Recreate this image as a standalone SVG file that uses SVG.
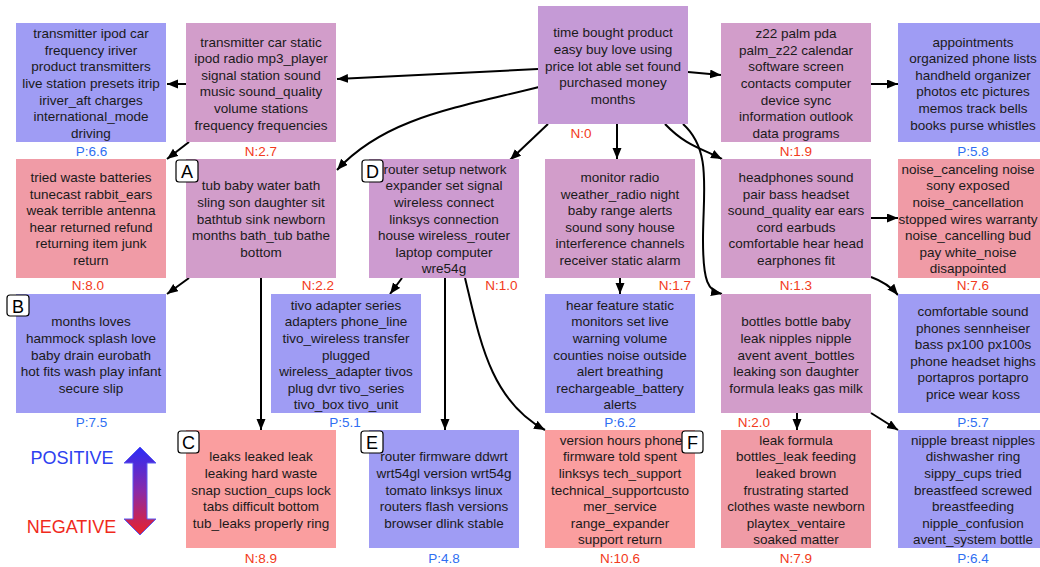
<svg xmlns="http://www.w3.org/2000/svg" width="1040" height="567" viewBox="0 0 1040 567">
<defs>
<style>
.t{font-family:"Liberation Sans",Arial,sans-serif;font-size:13.5px;fill:#1a1a1a;text-anchor:middle}
.p{font-family:"Liberation Sans",Arial,sans-serif;font-size:13.5px;fill:#2f6ff2;text-anchor:middle}
.n{font-family:"Liberation Sans",Arial,sans-serif;font-size:13.5px;fill:#f23a20;text-anchor:middle}
.bl{fill:#9f9cf4}.pu{fill:#c59ad6}.mv{fill:#d29dca}.pk{fill:#f09ba6}.sa{fill:#fa9e9f}
.bd rect{fill:#fff;stroke:#000;stroke-width:1.2}
.bd text{font-family:"Liberation Sans",Arial,sans-serif;font-size:18px;fill:#000;text-anchor:middle}
.e{fill:none;stroke:#000;stroke-width:2;marker-end:url(#ah)}
.lg{font-family:"Liberation Sans",Arial,sans-serif;font-size:18px;text-anchor:middle}
</style>
<marker id="ah" markerUnits="userSpaceOnUse" markerWidth="12" markerHeight="10" refX="11" refY="4.5" orient="auto"><path d="M0,0 L11,4.5 L0,9 Z" fill="#000"/></marker>
<linearGradient id="grad" x1="0" y1="0" x2="0" y2="1"><stop offset="0" stop-color="#2a2cf8"/><stop offset="0.5" stop-color="#8a2aa8"/><stop offset="1" stop-color="#ea2228"/></linearGradient>
</defs>
<rect width="1040" height="567" fill="#fff"/>

<g id="edges">
<path class="e" d="M538,69 L337,79"/>
<path class="e" d="M186,84 L167,84"/>
<path class="e" d="M189,142 L167,159"/>
<path class="e" d="M539,87 C455,108 385,118 337,170"/>
<path class="e" d="M548,124 L510,160"/>
<path class="e" d="M617,124 L617,159"/>
<path class="e" d="M665,124 C685,145 700,148 722,159"/>
<path class="e" d="M683,124 C712,150 703,190 703,240 C703,282 708,291 722,294"/>
<path class="e" d="M688,72 L721,75"/>
<path class="e" d="M871,84 L898,84"/>
<path class="e" d="M189,278 L167,294"/>
<path class="e" d="M261,278 L261,430"/>
<path class="e" d="M402,278 L390,294"/>
<path class="e" d="M445,278 L445,430"/>
<path class="e" d="M465,278 C480,340 490,400 545,430"/>
<path class="e" d="M620,278 L620,294"/>
<path class="e" d="M871,218 L898,218"/>
<path class="e" d="M871,277 C885,282 892,288 898,295"/>
<path class="e" d="M797,413 L797,430"/>
<path class="e" d="M871,413 L898,430"/>
</g>

<g id="n1"><rect class="bl" x="16" y="23" width="150" height="119"/>
<text class="t" y="38.2"><tspan x="91">transmitter ipod car</tspan><tspan x="91" dy="16.6">frequency iriver</tspan><tspan x="91" dy="16.6">product transmitters</tspan><tspan x="91" dy="16.6">live station presets itrip</tspan><tspan x="91" dy="16.6">iriver_aft charges</tspan><tspan x="91" dy="16.6">international_mode</tspan><tspan x="91" dy="16.6">driving</tspan></text>
<text class="p" x="91.5" y="156">P:6.6</text></g>

<g id="n2"><rect class="mv" x="186" y="23" width="150" height="119"/>
<text class="t" y="46.5"><tspan x="261">transmitter car static</tspan><tspan x="261" dy="16.6">ipod radio mp3_player</tspan><tspan x="261" dy="16.6">signal station sound</tspan><tspan x="261" dy="16.6">music sound_quality</tspan><tspan x="261" dy="16.6">volume stations</tspan><tspan x="261" dy="16.6">frequency frequencies</tspan></text>
<text class="n" x="261" y="156">N:2.7</text></g>

<g id="root"><rect class="pu" x="538" y="6" width="150" height="118"/>
<text class="t" y="37.3"><tspan x="613">time bought product</tspan><tspan x="613" dy="16.6">easy buy love using</tspan><tspan x="613" dy="16.6">price lot able set found</tspan><tspan x="613" dy="16.6">purchased money</tspan><tspan x="613" dy="16.6">months</tspan></text>
<text class="n" x="581" y="138">N:0</text></g>

<g id="n4"><rect class="mv" x="721" y="23" width="150" height="119"/>
<text class="t" y="38.2"><tspan x="796">z22 palm pda</tspan><tspan x="796" dy="16.6">palm_z22 calendar</tspan><tspan x="796" dy="16.6">software screen</tspan><tspan x="796" dy="16.6">contacts computer</tspan><tspan x="796" dy="16.6">device sync</tspan><tspan x="796" dy="16.6">information outlook</tspan><tspan x="796" dy="16.6">data programs</tspan></text>
<text class="n" x="796" y="156">N:1.9</text></g>

<g id="n5"><rect class="bl" x="898" y="23" width="150" height="119"/>
<text class="t" y="46.5"><tspan x="973">appointments</tspan><tspan x="973" dy="16.6">organized phone lists</tspan><tspan x="973" dy="16.6">handheld organizer</tspan><tspan x="973" dy="16.6">photos etc pictures</tspan><tspan x="973" dy="16.6">memos track bells</tspan><tspan x="973" dy="16.6">books purse whistles</tspan></text>
<text class="p" x="973" y="156">P:5.8</text></g>

<g id="n6"><rect class="pk" x="16" y="159" width="150" height="119"/>
<text class="t" y="182"><tspan x="91">tried waste batteries</tspan><tspan x="91" dy="16.6">tunecast rabbit_ears</tspan><tspan x="91" dy="16.6">weak terrible antenna</tspan><tspan x="91" dy="16.6">hear returned refund</tspan><tspan x="91" dy="16.6">returning item junk</tspan><tspan x="91" dy="16.6">return</tspan></text>
<text class="n" x="88" y="290">N:8.0</text></g>

<g id="nA"><rect class="mv" x="186" y="159" width="150" height="119"/>
<text class="t" y="190.3"><tspan x="261">tub baby water bath</tspan><tspan x="261" dy="16.6">sling son daughter sit</tspan><tspan x="261" dy="16.6">bathtub sink newborn</tspan><tspan x="261" dy="16.6">months bath_tub bathe</tspan><tspan x="261" dy="16.6">bottom</tspan></text>
<text class="n" x="318" y="290">N:2.2</text></g>

<g id="nD"><rect class="mv" x="369" y="159" width="150" height="119" style="fill:#cd9bd0"/>
<text class="t" y="173.7"><tspan x="445">router setup network</tspan><tspan x="444" dy="16.6">expander set signal</tspan><tspan x="444" dy="16.6">wireless connect</tspan><tspan x="444" dy="16.6">linksys connection</tspan><tspan x="444" dy="16.6">house wireless_router</tspan><tspan x="444" dy="16.6">laptop computer</tspan><tspan x="444" dy="16.6">wre54g</tspan></text>
<text class="n" x="501.5" y="290">N:1.0</text></g>

<g id="n9"><rect class="mv" x="545" y="159" width="150" height="119"/>
<text class="t" y="182"><tspan x="620">monitor radio</tspan><tspan x="620" dy="16.6">weather_radio night</tspan><tspan x="620" dy="16.6">baby range alerts</tspan><tspan x="620" dy="16.6">sound sony house</tspan><tspan x="620" dy="16.6">interference channels</tspan><tspan x="620" dy="16.6">receiver static alarm</tspan></text>
<text class="n" x="675" y="290">N:1.7</text></g>

<g id="n10"><rect class="mv" x="721" y="159" width="150" height="119"/>
<text class="t" y="182"><tspan x="796">headphones sound</tspan><tspan x="796" dy="16.6">pair bass headset</tspan><tspan x="796" dy="16.6">sound_quality ear ears</tspan><tspan x="796" dy="16.6">cord earbuds</tspan><tspan x="796" dy="16.6">comfortable hear head</tspan><tspan x="796" dy="16.6">earphones fit</tspan></text>
<text class="n" x="796" y="290">N:1.3</text></g>

<g id="n11"><rect class="pk" x="898" y="159" width="150" height="119"/>
<text class="t" y="173.7"><tspan x="968">noise_canceling noise</tspan><tspan x="968" dy="16.6">sony exposed</tspan><tspan x="968" dy="16.6">noise_cancellation</tspan><tspan x="968" dy="16.6">stopped wires warranty</tspan><tspan x="968" dy="16.6">noise_cancelling bud</tspan><tspan x="968" dy="16.6">pay white_noise</tspan><tspan x="968" dy="16.6">disappointed</tspan></text>
<text class="n" x="973" y="290">N:7.6</text></g>

<g id="nB"><rect class="bl" x="16" y="294" width="150" height="119"/>
<text class="t" y="326.3"><tspan x="91">months loves</tspan><tspan x="91" dy="16.6">hammock splash love</tspan><tspan x="91" dy="16.6">baby drain eurobath</tspan><tspan x="91" dy="16.6">hot fits wash play infant</tspan><tspan x="91" dy="16.6">secure slip</tspan></text>
<text class="p" x="91.5" y="427">P:7.5</text></g>

<g id="n13"><rect class="bl" x="271" y="294" width="150" height="119"/>
<text class="t" y="309.7"><tspan x="346">tivo adapter series</tspan><tspan x="346" dy="16.6">adapters phone_line</tspan><tspan x="346" dy="16.6">tivo_wireless transfer</tspan><tspan x="346" dy="16.6">plugged</tspan><tspan x="346" dy="16.6">wireless_adapter tivos</tspan><tspan x="346" dy="16.6">plug dvr tivo_series</tspan><tspan x="346" dy="16.6">tivo_box tivo_unit</tspan></text>
<text class="p" x="345" y="427">P:5.1</text></g>

<g id="n14"><rect class="bl" x="545" y="294" width="150" height="119"/>
<text class="t" y="309.7"><tspan x="620">hear feature static</tspan><tspan x="620" dy="16.6">monitors set live</tspan><tspan x="620" dy="16.6">warning volume</tspan><tspan x="620" dy="16.6">counties noise outside</tspan><tspan x="620" dy="16.6">alert breathing</tspan><tspan x="620" dy="16.6">rechargeable_battery</tspan><tspan x="620" dy="16.6">alerts</tspan></text>
<text class="p" x="620" y="427">P:6.2</text></g>

<g id="n15"><rect class="mv" x="721" y="294" width="150" height="119"/>
<text class="t" y="326.3"><tspan x="796">bottles bottle baby</tspan><tspan x="796" dy="16.6">leak nipples nipple</tspan><tspan x="796" dy="16.6">avent avent_bottles</tspan><tspan x="796" dy="16.6">leaking son daughter</tspan><tspan x="796" dy="16.6">formula leaks gas milk</tspan></text>
<text class="n" x="754" y="427">N:2.0</text></g>

<g id="n16"><rect class="bl" x="898" y="294" width="150" height="119"/>
<text class="t" y="316"><tspan x="973">comfortable sound</tspan><tspan x="973" dy="16.6">phones sennheiser</tspan><tspan x="973" dy="16.6">bass px100 px100s</tspan><tspan x="973" dy="16.6">phone headset highs</tspan><tspan x="973" dy="16.6">portapros portapro</tspan><tspan x="973" dy="16.6">price wear koss</tspan></text>
<text class="p" x="973" y="427">P:5.7</text></g>

<g id="nC"><rect class="sa" x="186" y="430" width="150" height="118"/>
<text class="t" y="461.3"><tspan x="261">leaks leaked leak</tspan><tspan x="261" dy="16.6">leaking hard waste</tspan><tspan x="261" dy="16.6">snap suction_cups lock</tspan><tspan x="261" dy="16.6">tabs difficult bottom</tspan><tspan x="261" dy="16.6">tub_leaks properly ring</tspan></text>
<text class="n" x="261" y="563">N:8.9</text></g>

<g id="nE"><rect class="bl" x="369" y="430" width="150" height="118"/>
<text class="t" y="461.3"><tspan x="444">router firmware ddwrt</tspan><tspan x="444" dy="16.6">wrt54gl version wrt54g</tspan><tspan x="444" dy="16.6">tomato linksys linux</tspan><tspan x="444" dy="16.6">routers flash versions</tspan><tspan x="444" dy="16.6">browser dlink stable</tspan></text>
<text class="p" x="444" y="563">P:4.8</text></g>

<g id="nF"><rect class="sa" x="545" y="430" width="150" height="118"/>
<text class="t" y="444.7"><tspan x="621">version hours phone</tspan><tspan x="620" dy="16.6">firmware told spent</tspan><tspan x="620" dy="16.6">linksys tech_support</tspan><tspan x="620" dy="16.6">technical_supportcusto</tspan><tspan x="620" dy="16.6">mer_service</tspan><tspan x="620" dy="16.6">range_expander</tspan><tspan x="620" dy="16.6">support return</tspan></text>
<text class="n" x="620" y="563">N:10.6</text></g>

<g id="n20"><rect class="pk" x="721" y="430" width="150" height="118"/>
<text class="t" y="444.7"><tspan x="796">leak formula</tspan><tspan x="796" dy="16.6">bottles_leak feeding</tspan><tspan x="796" dy="16.6">leaked brown</tspan><tspan x="796" dy="16.6">frustrating started</tspan><tspan x="796" dy="16.6">clothes waste newborn</tspan><tspan x="796" dy="16.6">playtex_ventaire</tspan><tspan x="796" dy="16.6">soaked matter</tspan></text>
<text class="n" x="796" y="563">N:7.9</text></g>

<g id="n21"><rect class="bl" x="898" y="430" width="150" height="118"/>
<text class="t" y="444.7"><tspan x="973">nipple breast nipples</tspan><tspan x="973" dy="16.6">dishwasher ring</tspan><tspan x="973" dy="16.6">sippy_cups tried</tspan><tspan x="973" dy="16.6">breastfeed screwed</tspan><tspan x="973" dy="16.6">breastfeeding</tspan><tspan x="973" dy="16.6">nipple_confusion</tspan><tspan x="973" dy="16.6">avent_system bottle</tspan></text>
<text class="p" x="973" y="563">P:6.4</text></g>

<g id="badges" class="bd">
<g id="bA"><rect x="176" y="160" width="22" height="22" rx="3"/><text x="187" y="178">A</text></g>
<g id="bD"><rect x="362" y="160" width="21" height="22" rx="3"/><text x="372.5" y="178">D</text></g>
<g id="bB"><rect x="7" y="295" width="22" height="21" rx="3"/><text x="18" y="312.5">B</text></g>
<g id="bC"><rect x="178" y="431" width="21" height="22" rx="3"/><text x="188.5" y="449">C</text></g>
<g id="bE"><rect x="361" y="431" width="22" height="22" rx="3"/><text x="372" y="449">E</text></g>
<g id="bF"><rect x="682" y="431" width="21" height="22" rx="3"/><text x="692.5" y="449">F</text></g>
</g>

<g id="legend">
<text class="lg" x="72" y="464" fill="#2d40f0">POSITIVE</text>
<text class="lg" x="71.5" y="533" fill="#f02a1c">NEGATIVE</text>
<path d="M140,447 L156,463 L147,463 L147,519 L156,519 L140,535 L124,519 L133,519 L133,463 L124,463 Z" fill="url(#grad)" stroke="#5a5af2" stroke-width="1"/>
</g>
</svg>
